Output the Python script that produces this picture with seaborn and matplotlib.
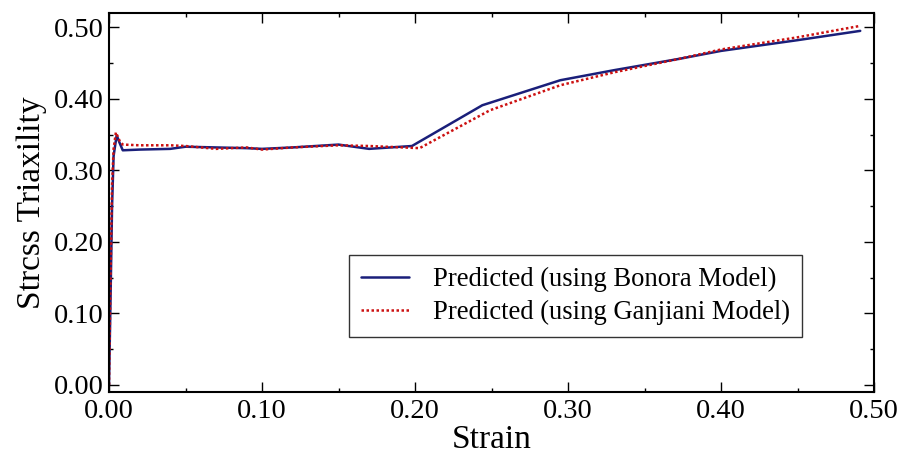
import matplotlib
matplotlib.use("Agg")
import matplotlib.pyplot as plt
import seaborn as sns
import pandas as pd
from matplotlib.ticker import MultipleLocator, FormatStrFormatter

# Data
bonora_strain = [0.0, 0.001, 0.002, 0.003, 0.005, 0.007, 0.009, 0.02, 0.04, 0.05, 0.07,
                 0.09, 0.10, 0.12, 0.15, 0.17, 0.198, 0.244, 0.295, 0.33, 0.373, 0.40, 0.45, 0.491]
bonora_triax = [0.0, 0.12, 0.25, 0.32, 0.349, 0.338, 0.328, 0.329, 0.330, 0.333, 0.332,
                0.331, 0.330, 0.332, 0.336, 0.330, 0.334, 0.391, 0.426, 0.440, 0.456, 0.467, 0.482, 0.495]

ganjiani_strain = [0.0, 0.001, 0.002, 0.003, 0.0045, 0.007, 0.009, 0.02, 0.04, 0.05, 0.07,
                   0.09, 0.10, 0.12, 0.15, 0.17, 0.203, 0.249, 0.295, 0.33, 0.373, 0.40, 0.45, 0.491]
ganjiani_triax = [0.0, 0.15, 0.28, 0.33, 0.353, 0.341, 0.336, 0.335, 0.335, 0.334, 0.330,
                  0.332, 0.329, 0.332, 0.335, 0.334, 0.331, 0.384, 0.419, 0.437, 0.456, 0.469, 0.486, 0.502]

series_names = ["Predicted (using Bonora Model)", "Predicted (using Ganjiani Model)"]

df = pd.concat([
    pd.DataFrame({"Strain": bonora_strain, "Triax": bonora_triax, "Model": series_names[0]}),
    pd.DataFrame({"Strain": ganjiani_strain, "Triax": ganjiani_triax, "Model": series_names[1]}),
])

sns.set_style("ticks")
plt.rcParams["font.family"] = ["Liberation Serif", "DejaVu Serif"]
plt.rcParams["text.color"] = "black"
plt.rcParams["axes.labelcolor"] = "black"
plt.rcParams["xtick.color"] = "black"
plt.rcParams["ytick.color"] = "black"

fig = plt.figure(figsize=(9.05, 4.53), dpi=100)
ax = fig.add_axes([109 / 905, 61 / 453, 765 / 905, 379 / 453])

sns.lineplot(data=df, x="Strain", y="Triax", hue="Model", style="Model",
             palette={series_names[0]: "#1a1f7a", series_names[1]: "#cc1111"},
             dashes={series_names[0]: "", series_names[1]: (1, 1)},
             linewidth=1.8, sort=False, estimator=None, ax=ax)

ax.set_xlim(0, 0.5)
ax.set_ylim(-0.01, 0.52)
ax.xaxis.set_major_locator(MultipleLocator(0.1))
ax.xaxis.set_minor_locator(MultipleLocator(0.05))
ax.yaxis.set_major_locator(MultipleLocator(0.1))
ax.yaxis.set_minor_locator(MultipleLocator(0.05))
ax.xaxis.set_major_formatter(FormatStrFormatter("%.2f"))
ax.yaxis.set_major_formatter(FormatStrFormatter("%.2f"))
ax.tick_params(which="both", direction="in", top=True, right=True, labelsize=20.5)
ax.tick_params(axis="x", which="major", length=7, width=1, pad=5)
ax.tick_params(axis="y", which="major", length=7, width=1, pad=4)
ax.tick_params(which="minor", length=3, width=1)
for s in ax.spines.values():
    s.set_color("black")
    s.set_linewidth(1.5)

ax.set_xlabel("Strain", fontsize=24, labelpad=0.5)
ax.set_ylabel("Strcss Triaxility", fontsize=24, labelpad=5)

leg = ax.legend(loc="lower left", bbox_to_anchor=(0.3137, 0.145), fontsize=19.2,
                frameon=True, fancybox=False, edgecolor="black", handlelength=1.8,
                handletextpad=0.9, borderpad=0.45, labelspacing=0.3, borderaxespad=0)
leg.get_frame().set_linewidth(1.0)

fig.savefig("out.png", dpi=100)
